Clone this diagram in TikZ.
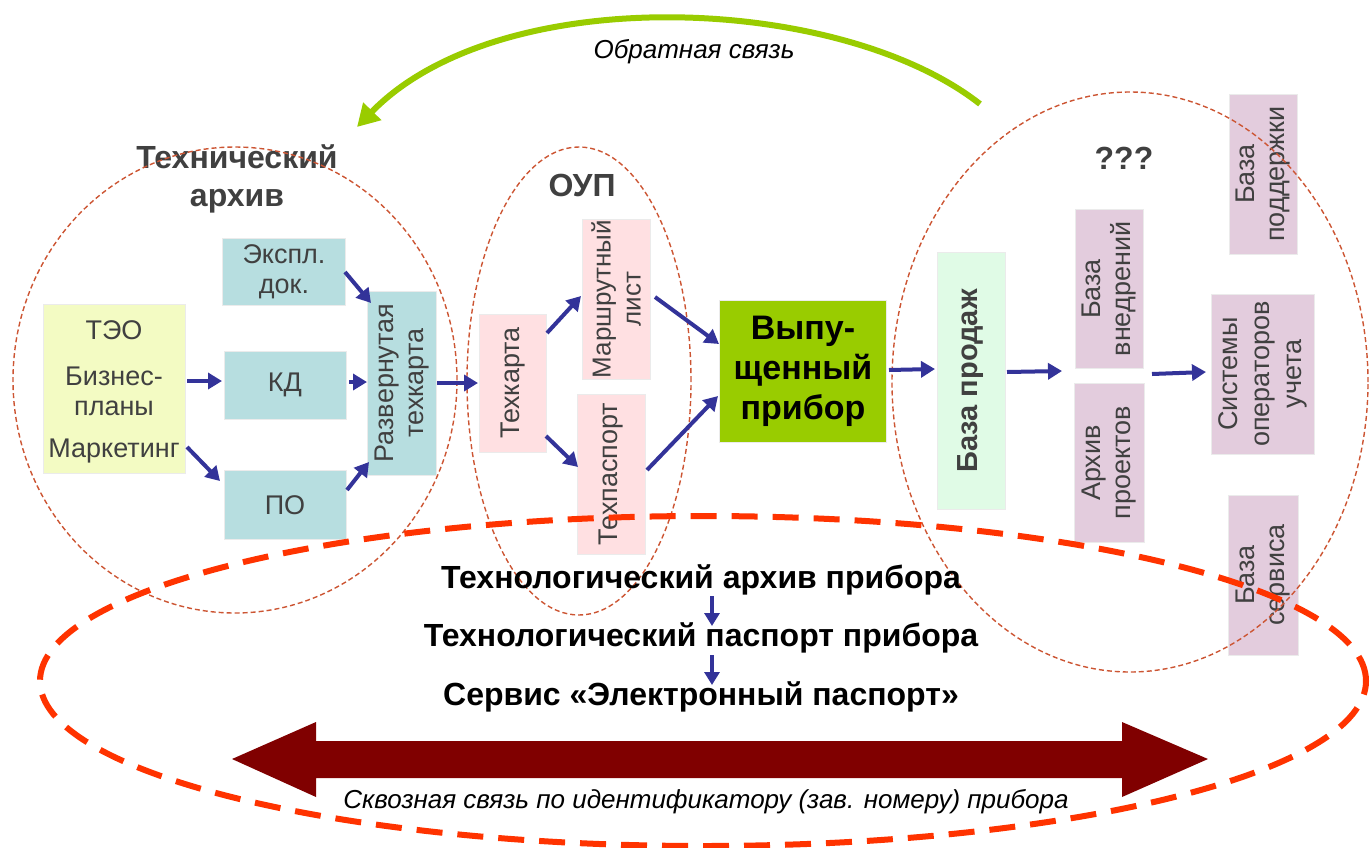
\documentclass[tikz,border=0pt]{standalone}
\usepackage{fontspec}
\setmainfont{Liberation Sans}
\usetikzlibrary{arrows.meta,calc}
\definecolor{navy}{HTML}{333399}
\definecolor{teal}{HTML}{B7DEE0}
\definecolor{yel}{HTML}{F3FBC3}
\definecolor{pink}{HTML}{FFE0E2}
\definecolor{lav}{HTML}{E3CCDD}
\definecolor{mint}{HTML}{E0FBE6}
\definecolor{lime}{HTML}{99CC00}
\definecolor{ell}{HTML}{CC5533}
\definecolor{redd}{HTML}{FF3300}
\definecolor{maroon}{HTML}{800000}
\definecolor{txt}{HTML}{404040}
\tikzset{
  bfont/.style={font=\fontsize{27}{30}\selectfont},
  box/.style={draw=black!8, line width=0.8pt, inner sep=1pt, align=center, text=txt, bfont},
  vbox/.style={box, rotate=90},
  conn/.style={draw=navy, line width=4pt, -{Triangle[length=14pt,width=16pt]}},
  grp/.style={draw=ell, line width=1.4pt, dash pattern=on 5pt off 3pt},
  title/.style={text=txt, font=\bfseries\fontsize{32}{38}\selectfont, align=center},
  btxt/.style={font=\bfseries\fontsize{32}{36}\selectfont},
  itxt/.style={font=\itshape\fontsize{26}{30}\selectfont},
}
\begin{document}
\begin{tikzpicture}[x=1pt,y=-1pt]
\useasboundingbox (0,0) rectangle (1371,847);

% boxes
\node[box, fill=yel, minimum width=142pt, minimum height=169pt] (teo) at (114,389) {};
\node[text=txt, bfont] (teo1) at (114,330) {ТЭО};
\node[text=txt, bfont, align=center] (teo2) at (114,391) {Бизнес-\\планы};
\node[text=txt, bfont] (teo3) at (114,451) {Маркетинг};

\node[box, fill=teal, minimum width=123pt, minimum height=67pt] (expl) at (284,272) {Экспл.\\док.};
\node[box, fill=teal, minimum width=122pt, minimum height=68pt] (kd) at (285,385) {КД};
\node[box, fill=teal, minimum width=122pt, minimum height=69pt] (po) at (285,505) {ПО};
\node[vbox, fill=teal, minimum width=184pt, minimum height=69pt] (razv) at (402,383) {Развернутая\\техкарта};

\node[vbox, fill=pink, minimum width=138pt, minimum height=67pt] (tk) at (513,383) {Техкарта};
\node[vbox, fill=pink, inner sep=0pt, font=\fontsize{26}{30}\selectfont, minimum width=160pt, minimum height=68pt] (ml) at (616,299) {Маршрутный\\лист};
\node[vbox, fill=pink, minimum width=160pt, minimum height=68pt] (tp) at (611,474) {Техпаспорт};
\node[box, fill=lime, text=black, font=\bfseries\fontsize{34}{40}\selectfont, minimum width=167pt, minimum height=142pt] (vyp) at (803,371) {Выпу-\\щенный\\прибор};

\node[vbox, fill=mint, font=\bfseries\fontsize{29}{32}\selectfont, minimum width=257pt, minimum height=68pt] (bprod) at (971,381) {База продаж};
\node[vbox, fill=lav, minimum width=159pt, minimum height=68pt] (bvn) at (1109,289) {База\\внедрений};
\node[vbox, fill=lav, minimum width=159pt, minimum height=70pt] (arh) at (1109,463) {Архив\\проектов};
\node[vbox, fill=lav, font=\fontsize{27}{32}\selectfont, minimum width=160pt, minimum height=103pt] (sys) at (1263,374) {Системы\\операторов\\учета};
\node[vbox, fill=lav, minimum width=160pt, minimum height=68pt] (bpod) at (1263,174) {База\\поддержки};
\node[vbox, fill=lav, minimum width=160pt, minimum height=70pt] (bserv) at (1263,575) {База\\сервиса};

% titles
\node[title] (tarh) at (237,179) {Технический\\архив};
\node[title] (oup) at (582,185) {ОУП};
\node[title] (qqq) at (1124,158) {???};

% group ellipses
\draw[grp] (235,380) ellipse [x radius=222pt, y radius=233pt];
\draw[grp] (579,381) ellipse [x radius=112pt, y radius=234pt];
\draw[grp] (1130,382) ellipse [x radius=238pt, y radius=290pt];

% connectors
\coordinate (gap1) at (1062,371);
\coordinate (gap2) at (1152,374);
\draw[conn] ($(teo)+(73,-8)$) -- ($(kd)+(-63,-4)$);
\draw[conn] ($(teo)+(73,58)$) -- ($(po)+(-65,-24)$);
\draw[conn] ($(expl)+(61,0)$) -- ($(razv)+(-31,-80)$);
\draw[conn] ($(kd)+(64,-3)$) -- ($(razv)+(-35,-1)$);
\draw[conn] ($(po)+(62,-15)$) -- ($(razv)+(-33,79)$);
\draw[conn] ($(razv)+(35,0)$) -- ($(tk)+(-35,0)$);
\draw[conn] ($(tk)+(34,-50)$) -- ($(ml)+(-35,-3)$);
\draw[conn] ($(tk)+(33,53)$) -- ($(tp)+(-33,-7)$);
\draw[conn] ($(ml)+(39,-2)$) -- ($(vyp)+(-84,-27)$);
\draw[conn] ($(tp)+(36,-4)$) -- ($(vyp)+(-85,25)$);
\draw[conn] ($(vyp)+(86,-1)$) -- ($(bprod)+(-36,-12)$);
\draw[conn] ($(bprod)+(36,-9)$) -- (gap1);
\draw[conn] (gap2) -- ($(sys)+(-57,-2)$);

% bottom texts
\node[btxt] (t1) at (701,580) {Технологический архив прибора};
\node[btxt] (t2) at (701,638) {Технологический паспорт прибора};
\node[btxt] (t3) at (701,697) {Сервис «Электронный паспорт»};
\draw[conn, -{Triangle[length=13pt,width=15pt]}] ($(t1)+(11,16)$) -- ($(t2)+(11,-12)$);
\draw[conn, -{Triangle[length=13pt,width=15pt]}] ($(t2)+(11,17)$) -- ($(t3)+(11,-12)$);

% big double arrow
\fill[maroon] (232,759) -- (316,722) -- (316,741) -- (1122,741) -- (1122,722) -- (1208,759)
  -- (1122,797) -- (1122,778) -- (316,778) -- (316,797) -- cycle;
\node[itxt] (skv) at (706,802) {Сквозная связь по идентификатору (зав. номеру) прибора};

% big dashed ellipse
\draw[redd, line width=6pt, dash pattern=on 26pt off 15pt] (703,681) ellipse [x radius=663pt, y radius=165pt];

% feedback arc
\coordinate (fbs) at (980,104);
\coordinate (fbe) at (357,127);
\draw[lime, line width=6pt, -{Triangle[length=22pt,width=24pt]}] (fbs) .. controls (840,-6) and (500,-20) .. (fbe);
\node[itxt] (fbl) at (694,52) {Обратная связь};
\end{tikzpicture}
\end{document}
